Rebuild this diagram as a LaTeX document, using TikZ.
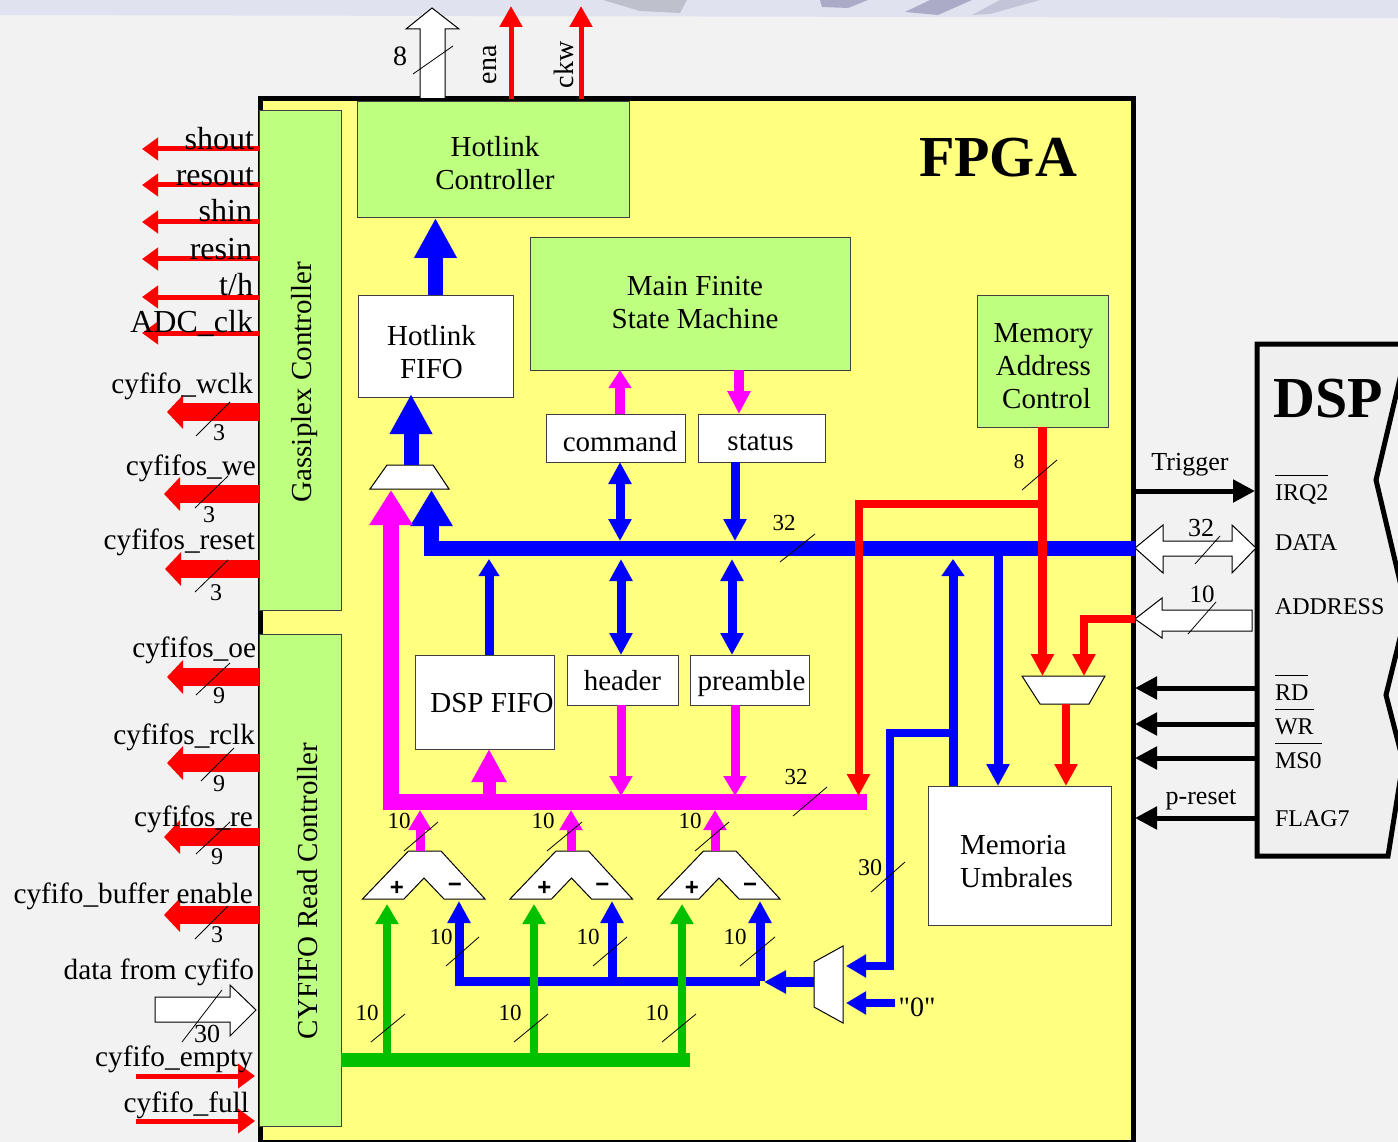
\documentclass[tikz,border=0pt]{standalone}
\usepackage{fontspec}
\setmainfont{Liberation Serif}
\newfontfamily\signfont{Liberation Sans}
\newfontfamily\quotefont{Liberation Serif}
\usetikzlibrary{arrows.meta}

\definecolor{pagegray}{HTML}{F2F2F2}
\definecolor{dspgray}{HTML}{EFEFEF}
\definecolor{bandblue}{HTML}{E0E2EF}
\definecolor{swooshblue}{HTML}{ABABC8}
\definecolor{fpgayellow}{HTML}{FFFF80}
\definecolor{blockgreen}{HTML}{BFFF80}
\definecolor{busgreen}{HTML}{00C000}
\definecolor{busmagenta}{HTML}{FF00FF}
\definecolor{busblue}{HTML}{0000FF}
\definecolor{busred}{HTML}{FF0000}

\newsavebox{\barbox}
\newcommand{\notsig}[1]{\sbox{\barbox}{#1}\rlap{\rule[24pt]{\wd\barbox}{1.3pt}}#1}

\begin{document}
\begin{tikzpicture}[
    x=1pt, y=-1pt,
    every node/.style={inner sep=0pt, outer sep=0pt, font=\fontsize{29}{33}\selectfont},
    block/.style={draw=black!75, line width=1pt, rectangle},
    greenblock/.style={block, fill=blockgreen},
    whiteblock/.style={block, fill=white},
    outline/.style={draw=black, line width=1pt, fill=white, line join=miter},
    siglab/.style={anchor=base east, font=\fontsize{29.3}{29.3}\selectfont},
    bigsiglab/.style={anchor=base east, font=\fontsize{32}{32}\selectfont},
    dsplab/.style={anchor=base west, font=\fontsize{24}{24}\selectfont},
    tick/.style={draw=black, line width=0.8pt},
    bus/.style n args={4}{draw=#1, line width=#2pt, line join=miter, -{Triangle[length=#3pt,width=#4pt]}},
    dblbus/.style n args={4}{draw=#1, line width=#2pt, {Triangle[length=#3pt,width=#4pt]}-{Triangle[length=#3pt,width=#4pt]}},
    redsig/.style={bus={busred}{5}{16}{22}},
    redfat/.style={bus={busred}{18}{16}{33}},
    redbus/.style={bus={busred}{8}{22}{22}},
    bluefat/.style={bus={busblue}{15}{40}{40}},
    bluebus/.style={bus={busblue}{9}{22}{22}},
    bluedbl/.style={dblbus={busblue}{9}{22}{22}},
    magfat/.style={bus={busmagenta}{16}{35}{41}},
    magmid/.style={bus={busmagenta}{13}{33}{33}},
    magbus/.style={bus={busmagenta}{9}{20}{22}},
    greenbus/.style={bus={busgreen}{8}{20}{22}},
    blacksig/.style={bus={black}{5}{22}{22}}
]
\useasboundingbox (0,0) rectangle (1398,1142);
\fill[pagegray] (0,0) rectangle (1398,1142);
\fill[bandblue] (0,0) -- (1398,0) -- (1398,18) -- (0,15) -- cycle;
\fill[bandblue!85!black] (603,0) -- (687,0) -- (680,13) -- (640,11) -- cycle;
\fill[swooshblue] (820,0) -- (868,0) -- (848,8) -- (822,7) -- cycle;
\fill[swooshblue] (930,0) -- (972,0) -- (938,15) -- (905,12) -- cycle;
\fill[swooshblue!70] (1000,0) -- (1040,0) -- (990,14) -- (972,15) -- cycle;

\node[draw=black, line width=5pt, fill=fpgayellow, minimum width=873, minimum height=1043] (fpga) at (696.5,620.5) {};
\node[font=\fontsize{58}{58}\selectfont\bfseries] (fpgatitle) at (998,158) {FPGA};

% DSP side
\fill[dspgray] (1257,344) -- (1398,344) -- (1398,375) -- (1376,480) -- (1398,590) -- (1398,640) -- (1386,695)
    -- (1398,755) -- (1398,775) -- (1388,856) -- (1257,856) -- cycle;
\draw[line width=5pt, line join=miter] (1402,344) -- (1257,344) -- (1257,856) -- (1388,856) -- (1401,775)
    (1402,757) -- (1386,695) -- (1402,630) (1402,590) -- (1376,480) -- (1402,370);
\node[font=\fontsize{58}{58}\selectfont\bfseries] (dsptitle) at (1328,399) {DSP};
\coordinate (dspW) at (1257,0);

\draw[outline] (420,98) -- (420,29) -- (406,29) -- (432,8) -- (459,29) -- (445,29) -- (445,98);
\draw[outline] (1135,548) -- (1163,525) -- (1163,541) -- (1232,541) -- (1232,525) -- (1256,548) -- (1232,573) -- (1232,556) -- (1163,556) -- (1163,573) -- cycle;
\draw[outline] (1135,619) -- (1162,598) -- (1162,610) -- (1252,610) -- (1252,631) -- (1162,631) -- (1162,638) -- cycle;
\draw[outline] (155,997) -- (230,997) -- (230,985) -- (256,1010) -- (230,1036) -- (230,1022) -- (155,1022) -- cycle;

\node[greenblock, minimum width=82, minimum height=499] (gass) at (300,360.5) {};
\node[greenblock, minimum width=82, minimum height=492] (cyctl) at (300,880) {};
\node[greenblock, minimum width=272, minimum height=116] (hlctl) at (493,160) {};
\node[whiteblock, minimum width=155, minimum height=102] (hlfifo) at (435.5,346) {};
\node[greenblock, minimum width=320, minimum height=132] (fsm) at (690,304) {};
\node[greenblock, minimum width=131, minimum height=132] (mac) at (1042.5,361) {};
\node[whiteblock, minimum width=139, minimum height=48] (cmd) at (615.5,438) {};
\node[whiteblock, minimum width=127, minimum height=48] (status) at (761.5,438) {};
\node[whiteblock, minimum width=139, minimum height=94] (dspfifo) at (484.5,702) {};
\node[whiteblock, minimum width=111, minimum height=50] (header) at (622.5,680) {};
\node[whiteblock, minimum width=119, minimum height=50] (preamble) at (749.5,680) {};
\node[whiteblock, minimum width=183, minimum height=139] (memo) at (1019.5,855.5) {};

\node[rotate=90] (gasstxt) at (305,382) {Gassiplex Controller};
\node[rotate=90] (cyctltxt) at (308,891) {CYFIFO Read Controller};
\node[align=center] (hlctltxt) at (495,163) {Hotlink\\Controller};
\node[align=center] (hlfifotxt) at (431.5,352.5) {Hotlink\\FIFO};
\node[align=center] (fsmtxt) at (695,302.5) {Main Finite\\State Machine};
\node[align=center] (mactxt) at (1043.5,366.5) {Memory\\Address\\\hspace*{6pt}Control};
\node (cmdtxt) at (620,442) {command};
\node (statustxt) at (760.5,442.5) {status};
\node (dspfifotxt) at (492,703) {DSP FIFO};
\node (headertxt) at (622.5,681) {header};
\node (preambletxt) at (751.5,684) {preamble};
\node[align=left] (memotxt) at (1016.5,861.5) {Memoria\\Umbrales};

% multiplexers
\draw[outline] (370,489) -- (387,465) -- (433,465) -- (449,489) -- cycle;
\draw[outline] (1022,676) -- (1105,676) -- (1089,704) -- (1040,704) -- cycle;
\draw[outline] (843,946) -- (843,1023) -- (814,1007) -- (814,962) -- cycle;
\coordinate (muxaT) at (411,465);
\coordinate (muxaB) at (0,490);
\coordinate (fifoin) at (411,394);
\coordinate (muxbT) at (0,676);
\coordinate (muxbB) at (1066,704);
\coordinate (muxcL) at (814,982);

% subtractors
\foreach \s/\dx in {1/0,2/147.5,3/295} {
    \begin{scope}[shift={(\dx,0)}]
        \draw[outline] (362.5,899) -- (408.5,851) -- (441,851) -- (485,899) -- (444,899) -- (424,878) -- (404,899) -- cycle;
        \node[font=\signfont\fontsize{24}{24}\selectfont\bfseries] (plus\s) at (397,888) {+};
        \node[font=\signfont\fontsize{24}{24}\selectfont\bfseries] (minus\s) at (455,888) {−};
    \end{scope}
}

% guide points for the buses
\coordinate (busR) at (1135,548);
\coordinate (busL) at (431.5,548);
\coordinate (busT) at (0,541);
\coordinate (busB) at (0,559);
\coordinate (magR) at (867,802);
\coordinate (magL) at (391,802);
\coordinate (magT) at (0,796);
\coordinate (xcmd) at (620,0);
\coordinate (xfst) at (739,0);
\coordinate (xst) at (735,0);
\coordinate (xhd) at (621,0);
\coordinate (xpre) at (732,0);
\coordinate (xprd) at (735,0);
\coordinate (xdf) at (489,0);

\draw[bluefat] (hlfifo.north) -- (hlfifo.north |- hlctl.south);
\draw[bluefat] (muxaT) -- (fifoin);
\draw[bus={busblue}{15}{36}{40}] (busR) -- (busL) -- (busL |- muxaB);
\draw[magfat] (magR) -- (magL) -- (magL |- muxaB);

\draw[bus={busmagenta}{10}{18}{22}] (xcmd |- cmd.north) -- (xcmd |- fsm.south);
\draw[bus={busmagenta}{10}{23}{22}] (xfst |- fsm.south) -- (xfst |- status.north);
\draw[bluedbl] (xcmd |- cmd.south) -- (xcmd |- busT);
\draw[bluebus] (xst |- status.south) -- (xst |- busT);
\draw[bluedbl] (xhd |- busB) -- (xhd |- header.north);
\draw[bluedbl] (xpre |- busB) -- (xpre |- preamble.north);
\draw[bus={busblue}{9}{17}{20}] (xdf |- dspfifo.north) -- (xdf |- busB);
\draw[magmid] (xdf |- magT) -- (xdf |- dspfifo.south);
\draw[magbus] (xhd |- header.south) -- (xhd |- magT);
\draw[magbus] (xprd |- preamble.south) -- (xprd |- magT);

% memory side
\coordinate (x998) at (998,556);
\coordinate (x953) at (953,0);
\coordinate (j953) at (953,733);
\coordinate (j890) at (890,733);
\coordinate (muxin1) at (846,966);
\coordinate (muxin2) at (846,1003);
\coordinate (muxout) at (764,982);
\coordinate (redJ) at (1043,503.5);
\coordinate (redL) at (858.5,503.5);
\coordinate (addrR) at (1135,619);
\coordinate (addrL) at (1084,619);
\node[font=\quotefont\fontsize{28}{28}\selectfont] (zero) at (917,1007) {"0"};

\draw[bluebus] (x998) -- (x998 |- memo.north);
\draw[bus={busblue}{9}{17}{22}] (x953 |- memo.north) -- (x953 |- busB);
\draw[bus={busblue}{8}{20}{22}] (j953) -- (j890) -- (j890 |- muxin1) -- (muxin1);
\draw[bus={busblue}{8}{20}{22}, shorten <=4pt] (zero.west |- muxin2) -- (muxin2);
\draw[bus={busblue}{10}{22}{22}] (muxcL) -- (muxout);
\draw[redbus] (redJ) -- (redL) -- (redL |- magT);
\draw[bus={busred}{9}{22}{22}] (mac.south) -- (mac.south |- muxbT);
\draw[redbus] (addrR) -- (addrL) -- (addrL |- muxbT);
\draw[redbus] (muxbB) -- (muxbB |- memo.north);

% subtractor inputs and outputs
\coordinate (bluR) at (760,981);
\coordinate (bluL) at (459,981);
\coordinate (grnR) at (690,1060);
\draw[bluebus] (bluR) -- (bluL) -- (459,901);
\draw[bluebus] (612,981) -- (612,901);
\draw[bluebus] (bluR) -- (760,901);
\draw[draw=busgreen, line width=14pt] (cyctl.east |- grnR) -- (grnR);
\foreach \xp/\xo in {387/420,534/571,682/715} {
    \draw[greenbus] (\xp,1060) -- (\xp,904);
    \draw[magbus] (\xo,851) -- (\xo,810);
}

% signals to the front end
\coordinate (enaT) at (511,6);
\coordinate (ckwT) at (581,6);
\draw[bus={busred}{5}{21}{22}] (enaT |- fpga.north) -- (enaT);
\draw[bus={busred}{5}{21}{22}] (ckwT |- fpga.north) -- (ckwT);
\node[rotate=90, font=\fontsize{28}{28}\selectfont] (enalab) at (490,65) {ena};
\node[rotate=90, font=\fontsize{28}{28}\selectfont] (ckwlab) at (564,65) {ckw};

\foreach \n/\lab/\rx/\by/\ay in {a/shout/254/150/149, b/resout/254/186/185, c/shin/252/222/222,
        d/resin/252/259/259, e/{t/h}/253/295/297, f/ADC\_clk/253/332/333} {
    \coordinate (tip\n) at (142,\ay);
    \draw[redsig] (gass.west |- tip\n) -- (tip\n);
    \node[bigsiglab] (lab\n) at (\rx,\by) {\lab};
}
\foreach \n/\lab/\rx/\by/\ay/\tx in {g/cyfifo\_wclk/253/393/412/167, h/cyfifos\_we/256/475/494/164, i/cyfifos\_reset/255/549/569/165,
        j/cyfifos\_oe/256/657/677/167, k/cyfifos\_rclk/255/744/763/167, l/cyfifos\_re/253/826/837/164,
        m/cyfifo\_buffer enable/253/903/915/164} {
    \coordinate (tip\n) at (\tx,\ay);
    \draw[redfat] (gass.west |- tip\n) -- (tip\n);
    \node[siglab] (lab\n) at (\rx,\by) {\lab};
}
\node[siglab] (labdata) at (254,979) {data from cyfifo};
\foreach \n/\lab/\rx/\by/\ay in {p/cyfifo\_empty/253/1066/1076, q/cyfifo\_full/249/1112/1121} {
    \coordinate (from\n) at (136,\ay);
    \coordinate (into\n) at (255,\ay);
    \draw[bus={busred}{5}{17}{24}] (from\n) -- (into\n);
    \node[siglab] (lab\n) at (\rx,\by) {\lab};
}

% signals from the DSP
\coordinate (trig) at (1255,491);
\draw[blacksig] (fpga.east |- trig) -- (trig);
\node[font=\fontsize{26}{26}\selectfont] (triglab) at (1190,465) {Trigger};
\foreach \n/\y in {rd/688,wr/724,ms/758,fl/818} {
    \coordinate (to\n) at (1135,\y);
    \draw[blacksig] (dspW |- to\n) -- (to\n);
}
\node[font=\fontsize{26}{26}\selectfont] (preslab) at (1201,800) {p-reset};
\foreach \n/\lab/\by in {irq/\notsig{IRQ2}/500, data/DATA/550, addr/ADDRESS/614, rd/\notsig{RD}/700,
        wr/\notsig{WR}/734, ms/\notsig{MS0}/768, fl/FLAG7/826} {
    \node[dsplab] (dsp\n) at (1275,\by) {\lab};
}

% bus width marks
\foreach \xa/\ya/\xb/\yb/\fs/\txt/\lx/\ly [count=\i] in {
        196/436/230/402/24/3/219/433, 195/508/228/476/24/3/209/515, 195/592/228/560/24/3/216/593,
        196/695/230/663/24/9/219/696, 201/781/234/748/24/9/219/784, 196/854/230/822/24/9/217/857,
        195/939/228/906/24/3/217/935, 182/1042/222/990/26/30/207/1034, 413/74/453/46/28/8/400/56,
        780/562/815/534/23/32/784/523, 793/816/827/787/23/32/796/777, 1022/490/1057/460/21/8/1019/462,
        871/892/905/862/24/30/870/868, 1195/564/1220/536/26/32/1201/528, 1188/634/1216/602/25/10/1202/594,
        404/851/438/822/23/10/399/821, 547/851/582/822/23/10/543/821, 695/851/729/822/23/10/690/821,
        446/966/479/937/23/10/441/937, 593/966/627/937/23/10/588/937, 740/966/775/937/23/10/735/937,
        371/1042/405/1014/23/10/367/1013, 514/1042/548/1014/23/10/510/1013, 662/1042/696/1014/23/10/657/1013} {
    \coordinate (marka\i) at (\xa,\ya);
    \coordinate (markb\i) at (\xb,\yb);
    \draw[tick] (marka\i) -- (markb\i);
    \node[font=\fontsize{\fs}{\fs}\selectfont] (width\i) at (\lx,\ly) {\txt};
}
\end{tikzpicture}
\end{document}
